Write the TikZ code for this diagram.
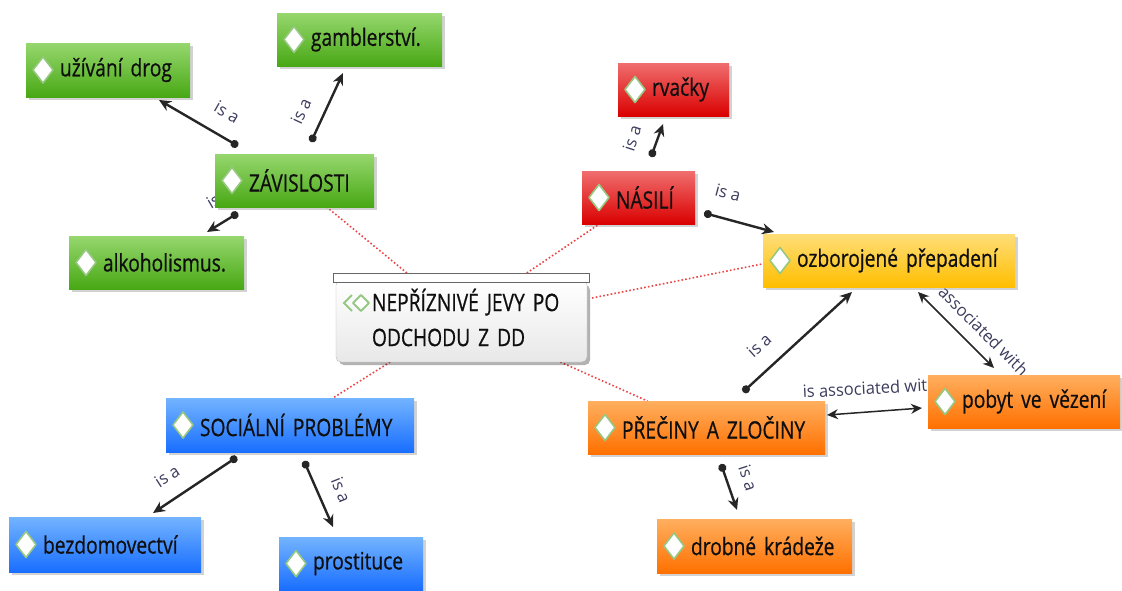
\documentclass[tikz,border=0pt]{standalone}
\usepackage{fontspec}
\setmainfont[FakeStretch=0.8,FakeBold=0.6,WordSpace=0.7]{Open Sans}
\newfontfamily\lblfont[FakeStretch=0.97]{Open Sans}
\usetikzlibrary{arrows.meta,shadows}
\pgfdeclarelayer{back}
\pgfdeclarelayer{bg}
\pgfsetlayers{back,bg,main}
\definecolor{gT}{RGB}{150,215,110}\definecolor{gB}{RGB}{72,168,20}
\definecolor{rT}{RGB}{240,110,110}\definecolor{rB}{RGB}{218,0,0}
\definecolor{yT}{RGB}{255,222,120}\definecolor{yB}{RGB}{255,190,0}
\definecolor{oT}{RGB}{255,175,95}\definecolor{oB}{RGB}{255,112,0}
\definecolor{bT}{RGB}{115,180,255}\definecolor{bB}{RGB}{25,110,255}
\definecolor{lblc}{RGB}{60,60,95}
\definecolor{txtc}{RGB}{15,15,15}
\definecolor{redot}{RGB}{235,70,70}
\definecolor{dmdc}{RGB}{150,200,130}
\tikzset{
  cbox/.style={anchor=north west, inner xsep=6pt, inner ysep=0pt, outer sep=0pt,
    align=left, font=\fontsize{24}{27}\selectfont, text=txtc,
    drop shadow={shadow xshift=3pt, shadow yshift=-3pt, opacity=0.35}},
  dmd/.style={fill=white, draw=dmdc, line width=1.6pt, line join=round},
  isa/.style={line width=2.4pt, black!85, {Circle[length=8pt]}-{Stealth[length=12pt,width=11pt]}},
  assoc/.style={line width=1.5pt, black!85, {Stealth[length=11pt,width=10pt]}-{Stealth[length=11pt,width=10pt]}},
  rl/.style={draw=redot, line width=1.6pt, dash pattern=on 1.6pt off 2.2pt},
  lbl/.style={font=\lblfont\fontsize{17}{19}\selectfont, text=lblc, inner sep=0pt}
}
\newcommand\cmnode[7]{%
  \pgfmathsetmacro\cmtw{#5-12}%
  \node[cbox, top color=#2T, bottom color=#2B, minimum width=#5pt, minimum height=#6pt, text width=\cmtw pt] (#1) at (#3,#4) {\hspace*{28pt}#7};%
  \draw[dmd] ([xshift=7pt]#1.west) -- ([xshift=17pt,yshift=13pt]#1.west) -- ([xshift=27pt]#1.west) -- ([xshift=17pt,yshift=-13pt]#1.west) -- cycle;%
}
\begin{document}
\begin{tikzpicture}[x=1pt,y=-1pt]
\begin{pgfonlayer}{back}
\fill[white] (0,0) rectangle (1122,590);
\end{pgfonlayer}
\useasboundingbox (0,0) rectangle (1122,590);
% central concept
\fill[black, opacity=0.3, rounded corners=5pt] (339,285) rectangle (590,365);
\draw[draw=gray!55, top color=white, bottom color=gray!18, rounded corners=5pt] (336,280) rectangle (587,362);
\draw[draw=gray!80!black, fill=white, line width=1pt] (333,273) rectangle (589,282);
\node[anchor=north west, minimum width=256pt, minimum height=89pt, inner xsep=6pt, inner ysep=0pt, outer sep=0pt,
  text width=244pt, align=left, font=\fontsize{24}{35}\selectfont, text=txtc] (cen) at (333,273)
  {\hspace*{33pt}NEPŘÍZNIVÉ JEVY PO\\\hspace*{33pt}ODCHODU Z DD};
\draw[draw=dmdc, line width=1.8pt] (352,295) -- (344,303) -- (352,311);
\draw[dmd, line width=1.8pt] (353,303) -- (361,295) -- (369,303) -- (361,311) -- cycle;
% concepts
\cmnode{drog}{g}{26}{43}{164}{54}{užívání drog}
\cmnode{gamb}{g}{277}{13}{165}{53}{gamblerství.}
\cmnode{zav}{g}{215}{154}{159}{53}{ZÁVISLOSTI}
\cmnode{alko}{g}{69}{236}{175}{53}{alkoholismus.}
\cmnode{rva}{r}{618}{63}{111}{53}{rvačky}
\cmnode{nas}{r}{582}{171}{113}{53}{NÁSILÍ}
\cmnode{ozb}{y}{763}{234}{252}{53}{ozborojené přepadení}
\cmnode{pre}{o}{588}{401}{237}{53}{PŘEČINY A ZLOČINY}
\cmnode{pob}{o}{928}{375}{192}{53}{pobyt ve vězení}
\cmnode{dro}{o}{657}{519}{195}{54}{drobné krádeže}
\cmnode{soc}{b}{166}{398}{248}{54}{SOCIÁLNÍ PROBLÉMY}
\cmnode{bez}{b}{9}{517}{192}{55}{bezdomovectví}
\cmnode{pro}{b}{279}{537}{144}{53}{prostituce}
% background: dotted links and labels
\begin{pgfonlayer}{bg}
\draw[rl] (cen) -- (zav);
\draw[rl] (cen) -- (nas);
\draw[rl] ([shift={(3,25)}]cen.north east) -- ([shift={(-1,-23)}]ozb.south west);
\draw[rl] (cen) -- (pre);
\draw[rl] (cen) -- (soc);
\node[lbl, rotate=-30] (l1) at (227,112) {is a};
\node[lbl, rotate=65] (l2) at (301,111) {is a};
\node[lbl, rotate=30] (l3) at (219,198) {is a};
\node[lbl, rotate=72] (l4) at (632,138) {is a};
\node[lbl, rotate=-15] (l5) at (728,193) {is a};
\node[lbl, rotate=42] (l6) at (759,345) {is a};
\node[lbl, rotate=-45] (l7) at (978,325) {is associated with};
\node[lbl, rotate=3] (l8) at (870,388) {is associated with};
\node[lbl, rotate=-72] (l9) at (748,478) {is a};
\node[lbl, rotate=33] (l10) at (167,476) {is a};
\node[lbl, rotate=-68] (l11) at (341,490) {is a};
\end{pgfonlayer}
% linking arrows
\draw[isa] ([shift={(23,-8)}]zav.north west) -- ([shift={(-31,3)}]drog.south east);
\draw[isa] ([shift={(96,-12)}]zav.north west) -- ([shift={(66,7)}]gamb.south west);
\draw[isa] ([shift={(23,6)}]zav.south west) -- ([shift={(138,-4)}]alko.north west);
\draw[isa] ([shift={(69,-14)}]nas.north west) -- ([shift={(45,8)}]rva.south west);
\draw[isa] ([shift={(9,-11)}]nas.south east) -- ([shift={(11,-2)}]ozb.north west);
\draw[isa] ([shift={(155,-9)}]pre.north west) -- ([shift={(89,5)}]ozb.south west);
\draw[assoc] ([shift={(155,5)}]ozb.south west) -- ([shift={(66,-7)}]pob.north west);
\draw[assoc] ([shift={(2,14)}]pre.north east) -- ([shift={(-6,33)}]pob.north west);
\draw[isa] ([shift={(133,10)}]pre.south west) -- ([shift={(80,-9)}]dro.north west);
\draw[isa] ([shift={(71,5)}]soc.south west) -- ([shift={(-48,-4)}]bez.north east);
\draw[isa] ([shift={(138,9)}]soc.south west) -- ([shift={(54,-10)}]pro.north west);
\end{tikzpicture}
\end{document}
